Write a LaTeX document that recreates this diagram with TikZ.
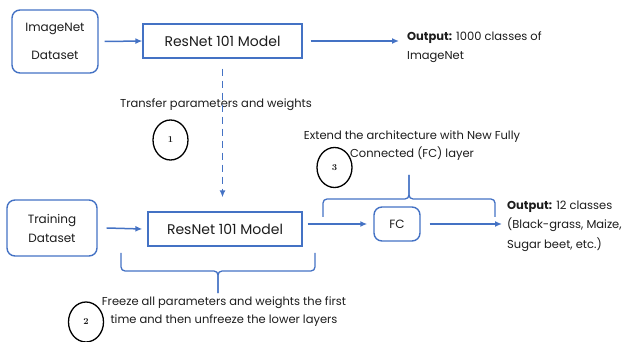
\documentclass[tikz,border=0pt]{standalone}
\usepackage{fontspec}
\setsansfont{Poppins}
\usetikzlibrary{arrows.meta,shapes.geometric}
\definecolor{lineblue}{RGB}{68,114,196}
\definecolor{inkgray}{RGB}{28,28,28}

\begin{document}
\begin{tikzpicture}[
    x=1pt,y=-1pt,
    text=inkgray,
    dataset/.style={draw=lineblue,line width=1.4pt,rounded corners=8pt,
      minimum width=86pt,align=center},
    model/.style={draw=lineblue,line width=1.3pt,minimum height=34pt,
      font=\sffamily\fontsize{14}{16}\selectfont},
    note/.style={align=center,font=\sffamily\fontsize{11.5}{18}\selectfont},
    outtext/.style={anchor=west,align=left,inner sep=0pt,
      font=\sffamily\fontsize{11.5}{19.5}\selectfont},
    stepmark/.style={ellipse,draw=black,line width=1.3pt,minimum width=35pt,
      minimum height=40pt,inner sep=0pt,font=\rmfamily\bfseries\small},
    arrow/.style={-{Latex[length=7pt,width=6pt]},draw=lineblue,line width=1.5pt},
    brace/.style={draw=lineblue,line width=1.3pt,rounded corners=4pt}
  ]
    \useasboundingbox (0,0) rectangle (630,342);
    % first row
    \node[dataset,minimum height=63pt,font=\sffamily\fontsize{12}{28}\selectfont]
      (imagenet) at (55,41.5) {ImageNet\\Dataset};
    \node[model,minimum width=159pt] (resnet1) at (222.5,41) {ResNet 101 Model};
    \node[outtext] (out1) at (407,47) {\textbf{Output:} 1000 classes of\\ImageNet};
    % second row
    \node[dataset,minimum width=90pt,minimum height=56pt,
      font=\sffamily\fontsize{12}{19}\selectfont]
      (training) at (52,228) {Training\\Dataset};
    \node[model,minimum width=154pt] (resnet2) at (225,229) {ResNet 101 Model};
    \node[dataset,minimum width=46pt,minimum height=34pt,
      font=\sffamily\fontsize{12}{14}\selectfont] (fc) at (397,224) {FC};
    \node[outtext] (out2) at (507,226) {\textbf{Output:} 12 classes\\(Black-grass, Maize,\\Sugar beet, etc.)};
    % notes
    \node[note] (transfer) at (216,105) {Transfer parameters and weights};
    \node[note] (extend) at (412,146) {Extend the architecture with New Fully\\Connected (FC) layer};
    \node[note] (freeze) at (224,312) {Freeze all parameters and weights the first\\time and then unfreeze the lower layers};
    \node[stepmark] (one) at (170.5,140) {1};
    \node[stepmark] (two) at (86,322) {2};
    \node[stepmark] (three) at (334.5,167.5) {3};
    % braces
    \coordinate (toptip) at (409,175);
    \coordinate (bottip) at (218,293);
    \draw[brace] (323,217) -- (323,199) -- (toptip |- 0,199) -- (toptip);
    \draw[brace] (toptip) -- (toptip |- 0,199) -- (495,199) -- (495,217);
    \draw[brace] (121,253) -- (121,271) -- (bottip |- 0,271) -- (bottip);
    \draw[brace] (bottip) -- (bottip |- 0,271) -- (315,271) -- (315,253);
    % connectors
    \draw[arrow] ([xshift=6pt]imagenet.east) -- (resnet1.west);
    \draw[arrow] ([xshift=8pt]resnet1.east) -- ([xshift=-8pt]out1.west |- resnet1.east);
    \draw[arrow,dash pattern=on 7pt off 5pt] ([yshift=-10pt]resnet1.south) -- ([yshift=14pt]resnet1.south |- resnet2.north);
    \draw[arrow] ([xshift=9pt]training.east) -- ([xshift=-5pt]resnet2.west);
    \draw[arrow] ([xshift=5pt]resnet2.east |- fc.west) -- ([xshift=-6pt]fc.west);
    \draw[arrow] ([xshift=9pt]fc.east) -- ([xshift=-5pt]out2.west |- fc.east);
\end{tikzpicture}
\end{document}
